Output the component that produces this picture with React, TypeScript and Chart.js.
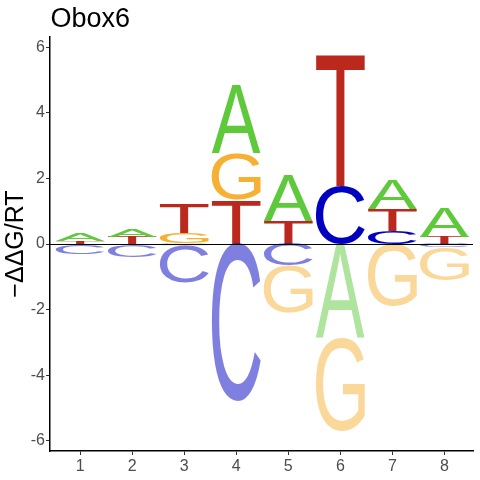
import React, { useEffect, useRef } from "react";
import Chart from "chart.js/auto";

const positions = [1, 2, 3, 4, 5, 6, 7, 8];
const letters = ["A", "C", "G", "T"];
const letterColors = ["#5DC93B", "#0000C0", "#F6B134", "#BA281E"];

// heights stacked above zero
const upA = [0.22, 0.24, 0.03, 2.08, 1.41, 0, 0.89, 0.92];
const upC = [0, 0, 0, 0, 0, 1.76, 0.4, 0];
const upG = [0, 0, 0.3, 1.4, 0, 0, 0, 0];
const upT = [0.09, 0.22, 0.88, 1.35, 0.7, 4.0, 0.66, 0.22];

// heights stacked below zero
const downA = [0, 0, 0, 0, 0, 2.85, 0, 0];
const downC = [0.28, 0.37, 1.12, 4.8, 0.66, 0, 0, 0.1];
const downG = [0.03, 0.04, 0.05, 0, 1.43, 2.87, 1.9, 1.0];
const downT = [0, 0, 0, 0, 0, 0, 0, 0];

const yTicks = [-6, -4, -2, 0, 2, 4, 6];

const titleText = "Obox6";
const yTitle = "\u2212\u0394\u0394G/RT";

function drawLetter(
  ctx: CanvasRenderingContext2D,
  ch: string,
  color: string,
  alpha: number,
  left: number,
  top: number,
  w: number,
  h: number
) {
  if (h < 0.3) return;
  ctx.save();
  ctx.font = '400 200px "Liberation Sans"';
  ctx.textBaseline = "alphabetic";
  ctx.textAlign = "left";
  const m = ctx.measureText(ch);
  const gw = m.actualBoundingBoxLeft + m.actualBoundingBoxRight;
  const gh = m.actualBoundingBoxAscent + m.actualBoundingBoxDescent;
  ctx.globalAlpha = alpha;
  ctx.fillStyle = color;
  ctx.translate(left, top);
  ctx.scale(w / gw, h / gh);
  ctx.fillText(ch, m.actualBoundingBoxLeft, m.actualBoundingBoxAscent);
  ctx.restore();
}

const logoPlugin = {
  id: "logo",
  afterDatasetsDraw(chart: any) {
    const { ctx, chartArea } = chart;
    const x = chart.scales.x;
    const y = chart.scales.y;
    const ups = [upA, upC, upG, upT];
    const downs = [downA, downC, downG, downT];
    ctx.save();
    ctx.beginPath();
    ctx.rect(chartArea.left, chartArea.top, chartArea.width, chartArea.height);
    ctx.clip();
    positions.forEach((p, i) => {
      const l = x.getPixelForValue(p - 0.47);
      const r = x.getPixelForValue(p + 0.47);
      [
        { arr: ups, sign: 1, alpha: 1 },
        { arr: downs, sign: -1, alpha: 0.5 },
      ].forEach(({ arr, sign, alpha }) => {
        const stack = letters
          .map((ch, k) => ({ ch, k, h: arr[k][i] }))
          .filter((s) => s.h > 0)
          .sort((a, b) => a.h - b.h);
        let base = 0;
        stack.forEach((s) => {
          const v0 = base;
          const v1 = base + sign * s.h;
          base = v1;
          const p0 = y.getPixelForValue(v0);
          const p1 = y.getPixelForValue(v1);
          const top = Math.min(p0, p1);
          drawLetter(ctx, s.ch, letterColors[s.k], alpha, l, top, r - l, Math.abs(p1 - p0));
        });
      });
    });
    const zy = Math.round(y.getPixelForValue(0)) + 0.5;
    ctx.strokeStyle = "#000";
    ctx.lineWidth = 1;
    ctx.beginPath();
    ctx.moveTo(chartArea.left, zy);
    ctx.lineTo(chartArea.right, zy);
    ctx.stroke();
    ctx.restore();
  },
  afterDraw(chart: any) {
    const { ctx } = chart;
    ctx.save();
    ctx.font = '27px "Liberation Sans", Arial, sans-serif';
    ctx.fillStyle = "#000";
    ctx.textBaseline = "alphabetic";
    ctx.fillText(titleText, 50.5, 26.5);
    ctx.restore();
  },
};

function App() {
  const canvasRef = useRef<HTMLCanvasElement>(null);
  const chartRef = useRef<Chart | null>(null);

  useEffect(() => {
    const ctx = canvasRef.current?.getContext("2d");
    if (!ctx) return;

    const tickFont = { family: '"Liberation Sans", Arial, sans-serif', size: 16 };

    chartRef.current = new Chart(ctx, {
      type: "scatter",
      data: { datasets: [{ data: [] }] },
      options: {
        animation: false,
        responsive: true,
        maintainAspectRatio: false,
        layout: { padding: { top: 37, right: 7, left: 0, bottom: 0 } },
        plugins: {
          legend: { display: false },
          tooltip: { enabled: false },
        },
        scales: {
          x: {
            type: "linear",
            min: 0.42,
            max: 8.55,
            afterBuildTicks: (s: any) => {
              s.ticks = positions.map((v) => ({ value: v }));
            },
            afterFit: (s: any) => {
              s.height = 29;
            },
            ticks: { font: tickFont, color: "#4D4D4D", padding: 2 },
            grid: {
              drawOnChartArea: false,
              drawTicks: true,
              tickLength: 4,
              color: "#333333",
            },
            border: { display: true, color: "#000", width: 1.5 },
          },
          y: {
            type: "linear",
            min: -6.31,
            max: 6.31,
            afterBuildTicks: (s: any) => {
              s.ticks = yTicks.map((v) => ({ value: v }));
            },
            afterFit: (s: any) => {
              s.width = 50;
            },
            ticks: { font: tickFont, color: "#4D4D4D", padding: 1 },
            grid: {
              drawOnChartArea: false,
              drawTicks: true,
              tickLength: 4,
              color: "#333333",
            },
            border: { display: true, color: "#000", width: 1.5 },
            title: {
              display: true,
              text: yTitle,
              color: "#000",
              font: { family: '"Liberation Sans", Arial, sans-serif', size: 25 },
              padding: { top: 1, bottom: 0 },
            },
          },
        },
      },
      plugins: [logoPlugin],
    });

    return () => {
      if (chartRef.current) {
        chartRef.current.destroy();
      }
    };
  }, []);

  return (
    <div style={{ position: "fixed", left: 0, top: 0, width: 480, height: 480, background: "#fff" }}>
      <canvas ref={canvasRef}></canvas>
    </div>
  );
}

export default App;
